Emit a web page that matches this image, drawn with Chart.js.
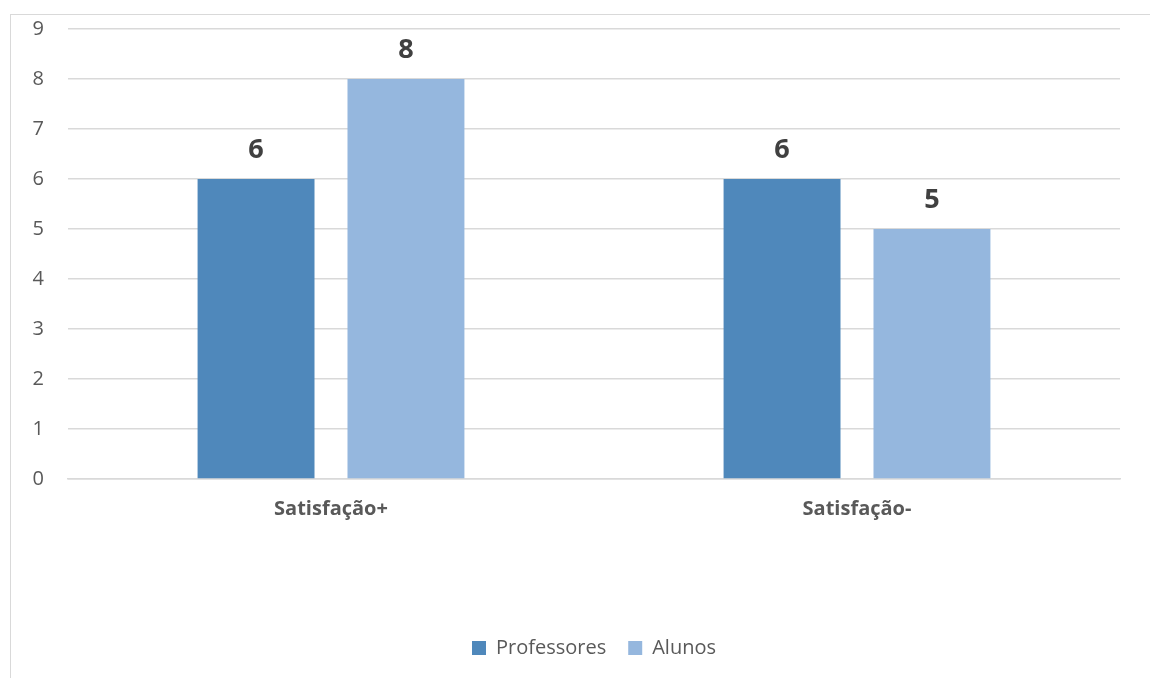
<!DOCTYPE html>
<html>
<head>
<meta charset="utf-8">
<script src="https://cdn.jsdelivr.net/npm/chart.js@4"></script>
<style>
  html, body { margin: 0; padding: 0; background: #fff; }
  #wrap { position: relative; width: 1150px; height: 678px; overflow: hidden; }
  #frame {
    position: absolute; left: 10px; top: 14px; width: 1200px; height: 700px;
    border-left: 1.5px solid #d9d9d9; border-top: 1.5px solid #d9d9d9;
  }
  canvas { position: absolute; left: 0; top: 0; }
</style>
</head>
<body>
<div id="wrap">
  <div id="frame"></div>
  <canvas id="barChart" width="1150" height="678"></canvas>
</div>
<script>
const categories = ['Satisfação+', 'Satisfação-'];
const professores = [6, 6];
const alunos = [8, 5];
const yTicks = [0, 1, 2, 3, 4, 5, 6, 7, 8, 9];

const FONT = "'Open Sans', 'Liberation Sans', sans-serif";

// value labels above each bar
const valueLabels = {
  id: 'valueLabels',
  afterDatasetsDraw(chart) {
    const ctx = chart.ctx;
    ctx.save();
    ctx.font = 'bold 27px ' + FONT;
    ctx.fillStyle = '#404040';
    ctx.textAlign = 'center';
    ctx.textBaseline = 'middle';
    chart.data.datasets.forEach((ds, i) => {
      chart.getDatasetMeta(i).data.forEach((bar, j) => {
        ctx.fillText(ds.data[j], bar.x, bar.y - 29);
      });
    });
    ctx.restore();
  }
};

new Chart(document.getElementById('barChart'), {
  type: 'bar',
  data: {
    labels: categories,
    datasets: [
      { label: 'Professores', data: professores, backgroundColor: '#4f88bb' },
      { label: 'Alunos', data: alunos, backgroundColor: '#95b7de' }
    ]
  },
  options: {
    responsive: false,
    animation: false,
    categoryPercentage: 0.57,
    barPercentage: 0.78,
    layout: { padding: { top: 29, right: 30, bottom: 10, left: 0 } },
    scales: {
      x: {
        grid: { display: false },
        border: { color: '#d9d9d9', width: 1.5 },
        ticks: { color: '#595959', font: { family: FONT, size: 20, weight: 'bold' }, padding: 10 },
        afterFit(scale) { scale.height = 137; }
      },
      y: {
        min: 0,
        max: 9,
        afterBuildTicks(scale) { scale.ticks = yTicks.map(v => ({ value: v })); },
        grid: { color: '#d9d9d9', lineWidth: 1.5, drawTicks: false },
        border: { display: false },
        ticks: { color: '#595959', font: { family: FONT, size: 20 }, padding: 24 },
        afterFit(scale) {
          scale.width = 68;
          scale.paddingTop = 0;
          scale.paddingBottom = 0;
        }
      }
    },
    plugins: {
      legend: {
        position: 'bottom',
        fullSize: false,
        labels: {
          boxWidth: 14,
          boxHeight: 14,
          padding: 22,
          color: '#595959',
          font: { family: FONT, size: 20 }
        }
      },
      tooltip: { enabled: false }
    }
  },
  plugins: [valueLabels]
});
</script>
</body>
</html>
